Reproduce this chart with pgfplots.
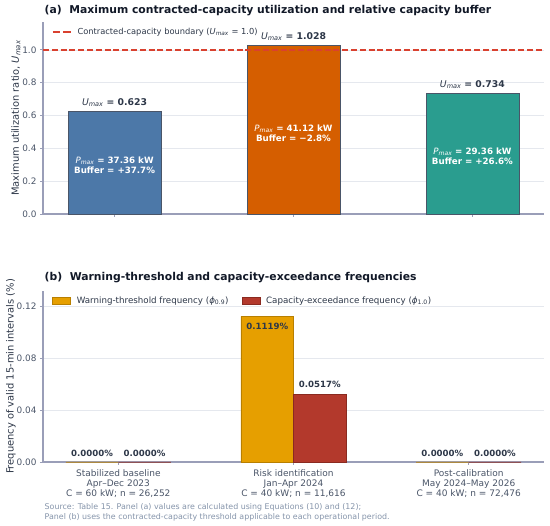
\documentclass[border=0pt]{standalone}
\usepackage{fontspec}
\setmainfont{DejaVu Sans}
\usepackage{pgfplots}
\pgfplotsset{compat=1.18}
\definecolor{cA}{HTML}{4C78A8}
\definecolor{cB}{HTML}{D55E00}
\definecolor{cC}{HTML}{2A9D8F}
\definecolor{cOr}{HTML}{E69F00}
\definecolor{cRd}{HTML}{B3392C}
\definecolor{edgec}{HTML}{4A5568}
\definecolor{edgeOr}{HTML}{B87F00}
\definecolor{edgeRd}{HTML}{8A2A20}
\definecolor{dashc}{HTML}{D9412F}
\definecolor{spine}{HTML}{9A9EB8}
\definecolor{gridc}{HTML}{E5E8EE}
\definecolor{tickc}{HTML}{4A5568}
\definecolor{annc}{HTML}{2D3748}
\definecolor{titlec}{HTML}{111827}
\definecolor{srcc}{HTML}{8594AA}
\newcommand{\Umax}{\textit{U}\textsubscript{\textit{max}}}
\newcommand{\Pmax}{\textit{P}\textsubscript{\textit{max}}}
\pgfplotsset{
  common/.style={
    scale only axis,
    width=501pt,
    axis lines*=left,
    axis line style={color=spine, line width=1.1pt},
    tick align=outside,
    major tick length=3pt,
    tick style={color=spine, line width=0.8pt},
    ymajorgrids,
    grid style={color=gridc, line width=0.6pt},
    yticklabel style={font=\fontsize{8.9}{10}\selectfont, text=tickc},
    xticklabel style={font=\fontsize{9}{9.8}\selectfont, text=tickc, align=center, yshift=-1.5pt},
    ylabel style={font=\fontsize{9.9}{11}\selectfont, text=annc, anchor=center},
    /pgf/number format/assume math mode=true,
    scaled y ticks=false,
    clip=false,
  }
}
\begin{document}
\begin{tikzpicture}
\useasboundingbox (0,0) rectangle (550pt,526pt);
% Titles
\node[anchor=base west, font=\fontsize{10.8}{12}\selectfont\bfseries, text=titlec, inner sep=0pt] at (44.5pt,512.5pt) {(a)\ \ Maximum contracted-capacity utilization and relative capacity buffer};
\node[anchor=base west, font=\fontsize{10.8}{12}\selectfont\bfseries, text=titlec, inner sep=0pt] at (44.5pt,245pt) {(b)\ \ Warning-threshold and capacity-exceedance frequencies};
% Panel (a)
\begin{axis}[common,
  at={(43pt,312pt)}, anchor=south west,
  height=192pt,
  xmin=-0.4, xmax=2.4, ymin=0, ymax=1.17,
  ytick={0,0.2,0.4,0.6,0.8,1.0},
  yticklabel={\pgfmathprintnumber[fixed,fixed zerofill,precision=1]{\tick}},
  xtick={0,1,2}, xticklabels={,,},
  ylabel={Maximum utilization ratio, \Umax},
  ylabel style={at={(axis description cs:-0.054,0.5)}},
  legend style={draw=none, fill=none, at={(axis description cs:0.016,0.985)}, anchor=north west,
    font=\fontsize{8.3}{9}\selectfont, text=annc, inner sep=1pt,
    /tikz/every odd column/.append style={column sep=4pt}},
  legend image code/.code={\draw[#1, dash pattern=on 7.6pt off 2.6pt] (0pt,0pt) -- (18pt,0pt);},
]
\addplot[ybar, bar width=0.52, bar shift=0pt, fill=cA, draw=edgec, line width=0.7pt, forget plot] coordinates {(0,0.623)};
\addplot[ybar, bar width=0.52, bar shift=0pt, fill=cB, draw=edgec, line width=0.7pt, forget plot] coordinates {(1,1.028)};
\addplot[ybar, bar width=0.52, bar shift=0pt, fill=cC, draw=edgec, line width=0.7pt, forget plot] coordinates {(2,0.734)};
\addplot[dashc, line width=1.3pt, dash pattern=on 6pt off 2.8pt] coordinates {(-0.4,1.0) (2.4,1.0)};
\addlegendentry{Contracted-capacity boundary (\Umax{} = 1.0)}
\node[anchor=south, yshift=1.5pt, font=\fontsize{9.3}{10}\selectfont, text=annc] at (axis cs:0,0.623) {\Umax{} \textbf{= 0.623}};
\node[anchor=south, yshift=1.5pt, font=\fontsize{9.3}{10}\selectfont, text=annc] at (axis cs:1,1.028) {\Umax{} \textbf{= 1.028}};
\node[anchor=south, yshift=1.5pt, font=\fontsize{9.3}{10}\selectfont, text=annc] at (axis cs:2,0.734) {\Umax{} \textbf{= 0.734}};
\node[align=center, text=white, font=\fontsize{8.7}{10}\selectfont] at (axis cs:0,0.299) {\Pmax{} \textbf{= 37.36 kW}\\\textbf{Buffer = +37.7\%}};
\node[align=center, text=white, font=\fontsize{8.7}{10}\selectfont] at (axis cs:1,0.493) {\Pmax{} \textbf{= 41.12 kW}\\\textbf{Buffer = −2.8\%}};
\node[align=center, text=white, font=\fontsize{8.7}{10}\selectfont] at (axis cs:2,0.352) {\Pmax{} \textbf{= 29.36 kW}\\\textbf{Buffer = +26.6\%}};
\end{axis}
% Panel (b)
\begin{axis}[common,
  at={(43pt,64pt)}, anchor=south west,
  height=171pt,
  xmin=-0.43, xmax=2.43, ymin=0, ymax=0.1315,
  ytick={0,0.04,0.08,0.12},
  yticklabel={\pgfmathprintnumber[fixed,fixed zerofill,precision=2]{\tick}},
  xtick={0,1,2},
  xticklabels={{Stabilized baseline\\Apr–Dec 2023\\C = 60 kW; n = 26,252},
               {Risk identification\\Jan–Apr 2024\\C = 40 kW; n = 11,616},
               {Post-calibration\\May 2024–May 2026\\C = 40 kW; n = 72,476}},
  ylabel={Frequency of valid 15-min intervals (\%)},
  ylabel style={at={(axis description cs:-0.064,0.5)}},
  legend columns=2,
  legend style={draw=none, fill=none, at={(axis description cs:0.016,0.985)}, anchor=north west,
    font=\fontsize{8.7}{9}\selectfont, text=annc, inner sep=1pt,
    /tikz/every odd column/.append style={column sep=4pt},
    /tikz/every even column/.append style={column sep=11pt}},
  legend image code/.code={\draw[#1] (0pt,-3.5pt) rectangle (18pt,3.5pt);},
]
\addplot[ybar, bar width=0.3, bar shift=0pt, fill=cOr, draw=edgeOr, line width=0.6pt] coordinates {(-0.15,0) (0.85,0.1119) (1.85,0)};
\addlegendentry{Warning-threshold frequency (\textit{ϕ}\textsubscript{0.9})}
\addplot[ybar, bar width=0.3, bar shift=0pt, fill=cRd, draw=edgeRd, line width=0.6pt] coordinates {(0.15,0) (1.15,0.0517) (2.15,0)};
\addlegendentry{Capacity-exceedance frequency (\textit{ϕ}\textsubscript{1.0})}
\tikzset{lab/.style={font=\fontsize{8.6}{10}\selectfont\bfseries, text=annc}}
\node[lab, yshift=8.7pt] at (axis cs:-0.15,0) {0.0000\%};
\node[lab, yshift=8.7pt] at (axis cs:0.15,0) {0.0000\%};
\node[lab, yshift=-9.5pt] at (axis cs:0.85,0.1119) {0.1119\%};
\node[lab, yshift=10pt] at (axis cs:1.15,0.0517) {0.0517\%};
\node[lab, yshift=8.7pt] at (axis cs:1.85,0) {0.0000\%};
\node[lab, yshift=8.7pt] at (axis cs:2.15,0) {0.0000\%};
\end{axis}
% Source note
\node[anchor=base west, font=\fontsize{7.9}{9}\selectfont, text=srcc, inner sep=0pt] at (44.5pt,16.5pt) {Source: Table 15. Panel (a) values are calculated using Equations (10) and (12);};
\node[anchor=base west, font=\fontsize{7.9}{9}\selectfont, text=srcc, inner sep=0pt] at (44.5pt,6.5pt) {Panel (b) uses the contracted-capacity threshold applicable to each operational period.};
\end{tikzpicture}
\end{document}
